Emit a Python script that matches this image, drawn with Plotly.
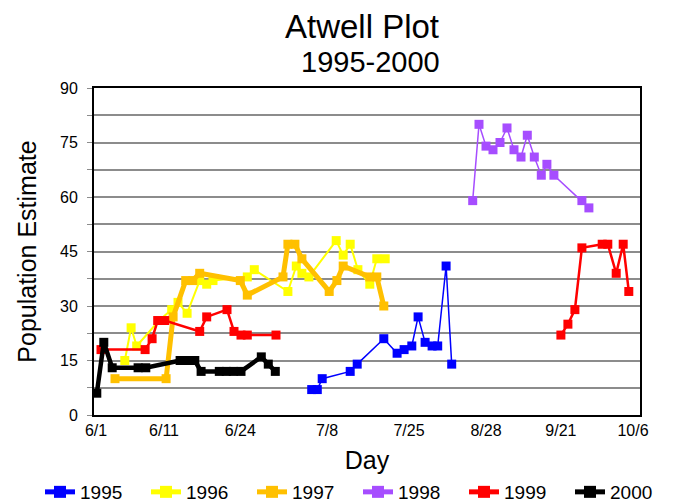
import plotly.graph_objects as go

# Category positions along the season axis (one unit per sampling slot)
x_1995 = [31.1, 31.9, 32.6, 36.6, 37.6, 41.4, 43.3, 44.3, 45.4, 46.3, 47.3, 48.3, 49.1, 50.3, 51.1]
y_1995 = [7, 7, 10, 12, 14, 21, 17, 18, 19, 27, 20, 19, 19, 41, 14]

x_1996 = [4.4, 5.3, 6.1, 9.3, 11.1, 12.0, 13.3, 15.1, 16.1, 17.0, 21.9, 22.9, 27.7, 28.9, 29.7,
          30.7, 34.6, 35.6, 36.6, 37.7, 39.4, 40.4, 41.6]
y_1996 = [15, 24, 19, 26, 29, 31, 28, 37, 36, 37, 38, 40, 34, 41, 39,
          38, 48, 44, 47, 40, 36, 43, 43]

x_1997 = [3.0, 10.3, 11.3, 13.1, 14.1, 15.1, 20.9, 21.9, 27.0, 27.7, 28.7, 29.7, 33.6, 34.7, 35.6,
          39.4, 40.4, 41.4]
y_1997 = [10, 10, 27, 37, 37, 39, 37, 33, 38, 47, 47, 43, 34, 37, 41, 38, 38, 30]

x_1998 = [54.1, 55.0, 56.0, 57.0, 58.0, 59.0, 60.0, 61.0, 61.9, 62.9, 63.9, 64.7, 65.7, 69.7, 70.7]
y_1998 = [59, 80, 74, 73, 75, 79, 73, 71, 77, 71, 66, 69, 66, 59, 57]

# 1999 has an unsampled stretch in mid-summer (None breaks the line)
x_1999 = [1.0, 7.3, 8.3, 9.1, 10.1, 15.1, 16.1, 19.0, 20.0, 21.0, 21.9, 26.0, 40.0,
          66.7, 67.7, 68.7, 69.7, 72.6, 73.4, 74.6, 75.6, 76.4]
y_1999 = [18, 18, 21, 26, 26, 23, 27, 29, 23, 22, 22, 22, None,
          22, 25, 29, 46, 47, 47, 39, 47, 34]

x_2000 = [0.4, 1.4, 2.6, 6.3, 7.4, 12.3, 13.4, 14.4, 15.3, 17.9, 18.9, 19.9, 21.0, 23.9, 24.9, 25.9]
y_2000 = [6, 20, 13, 13, 13, 15, 15, 15, 12, 12, 12, 12, 12, 16, 14, 12]

tick_pos = [0.3, 10.0, 20.9, 33.3, 45.0, 56.0, 66.7, 77.0]
tick_labels = ["6/1", "6/11", "6/24", "7/8", "7/25", "8/28", "9/21", "10/6"]

y_ticks = [i * 7.5 for i in range(13)]
y_ticktext = [str(int(v)) if v % 15 == 0 else "" for v in y_ticks]

FONT = "Arial, Liberation Sans, sans-serif"

series = [
    ("1995", x_1995, y_1995, "#0000FF", 1.5),
    ("1996", x_1996, y_1996, "#FFFF00", 2),
    ("1997", x_1997, y_1997, "#FFC000", 5),
    ("1998", x_1998, y_1998, "#A64DFF", 1.5),
    ("1999", x_1999, y_1999, "#FF0000", 2.5),
    ("2000", x_2000, y_2000, "#000000", 4.5),
]

fig = go.Figure()
for name, xs, ys, color, lw in series:
    fig.add_trace(go.Scatter(
        x=xs, y=ys, name=name, mode="lines+markers",
        line=dict(color=color, width=lw),
        marker=dict(symbol="square", size=9, color=color),
        connectgaps=False,
    ))

# plot area spans x 94..640 and y 88..415 in page pixels
PL, PW, PB, PH = 94, 546, 415, 327

fig.update_layout(
    width=688, height=504,
    margin=dict(l=94, r=48, t=88, b=89, autoexpand=False),
    paper_bgcolor="white", plot_bgcolor="white",
    font=dict(family=FONT, color="black"),
    title=dict(text="Atwell Plot", x=362 / 688, xanchor="center",
               y=1 - 26 / 504, yanchor="middle", font=dict(size=33)),
    annotations=[dict(text="1995-2000", xref="paper", yref="paper",
                      x=(370 - PL) / PW, y=(PB - 62) / PH,
                      xanchor="center", yanchor="middle",
                      showarrow=False, font=dict(size=29))],
    showlegend=True,
    legend=dict(orientation="h", xref="paper", yref="paper",
                x=(40 - PL) / PW, xanchor="left", y=(PB - 492) / PH, yanchor="middle",
                font=dict(size=19), entrywidth=61, entrywidthmode="pixels",
                traceorder="normal", itemsizing="constant"),
)

fig.update_xaxes(
    range=[0, 78], tickmode="array", tickvals=tick_pos, ticktext=tick_labels,
    showgrid=False, zeroline=False, ticks="", tickfont=dict(size=16),
    showline=True, linecolor="black", linewidth=2, mirror=True,
    title=dict(text="Day", font=dict(size=25), standoff=13),
)
fig.update_yaxes(
    range=[0, 90], tickmode="array", tickvals=y_ticks, ticktext=y_ticktext,
    showgrid=True, gridcolor="#8c8c8c", gridwidth=1.5, zeroline=False,
    ticks="outside", ticklen=5, tickcolor="#8c8c8c", tickfont=dict(size=16),
    ticklabelstandoff=6,
    showline=True, linecolor="black", linewidth=2, mirror=True,
    title=dict(text="Population Estimate", font=dict(size=25), standoff=16),
)

fig.write_html("out.html")
